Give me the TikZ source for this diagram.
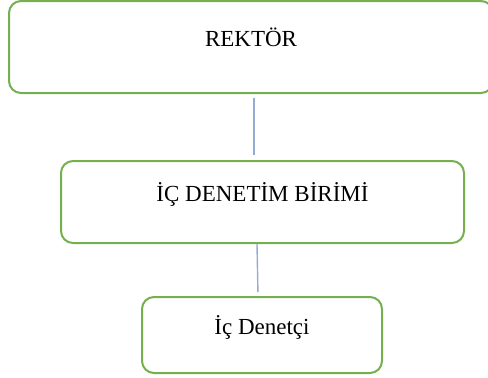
\documentclass[tikz,border=0pt]{standalone}
\usepackage{fontspec}
\setmainfont{Liberation Serif}
\definecolor{boxgreen}{RGB}{118,176,78}
\definecolor{linkblue}{RGB}{148,172,210}
\tikzset{
	unitbox/.style={draw=boxgreen, line width=2pt, rounded corners=12pt, fill=white, inner sep=0pt, font=\fontsize{23}{27}\selectfont, text height=16pt, text depth=17pt},
	link/.style={draw=linkblue, line width=1.4pt}
}

\begin{document}
\begin{tikzpicture}[x=1pt, y=-1pt]
	\useasboundingbox (0,0) rectangle (488,378);

	\node[unitbox, minimum width=484pt, minimum height=92pt] (rektor) at (251,47) {REKT\"OR};
	\node[unitbox, minimum width=403pt, minimum height=82pt] (birim) at (262.5,202) {İÇ DENETİM BİRİMİ};
	\node[unitbox, minimum width=240pt, minimum height=76pt] (denetci) at (262,335) {İç Denetçi};

	% baglantilar
	\draw[link, shorten <=4pt, shorten >=5pt] ([xshift=3pt]rektor.south) -- ([xshift=-8.5pt]birim.north);
	\draw[link, shorten >=4pt] ([xshift=-5.5pt]birim.south) -- ([xshift=-4pt]denetci.north);
\end{tikzpicture}
\end{document}
